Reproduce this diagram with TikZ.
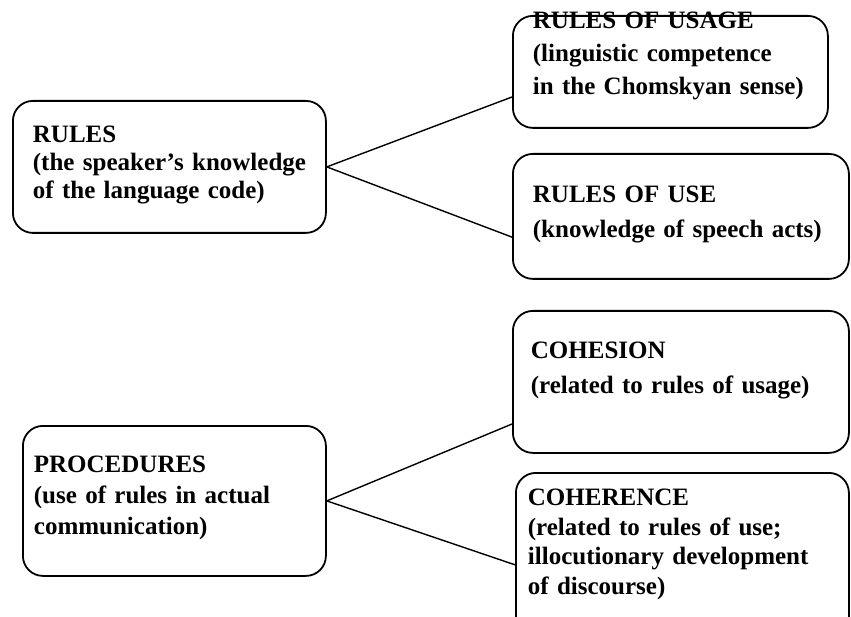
\documentclass[tikz,border=0pt]{standalone}
\usepackage{fontspec}
\setmainfont{Liberation Serif}
\usepackage{tikz}

\begin{document}
\begin{tikzpicture}[x=1pt, y=-1pt]
    \tikzstyle{block} = [rectangle, draw, line width=1.8pt, rounded corners=20pt,
        anchor=north west, align=left, inner ysep=0pt]
    \tikzstyle{line} = [draw, line width=1.4pt]

    \clip (0,0) rectangle (851,617);

    \node [block, inner xsep=20pt, text width=273pt, text height=42pt, text depth=90pt,
        font=\bfseries\fontsize{25}{28}\selectfont] (rules) at (12,100)
        {RULES\\(the speaker's knowledge\\of the language code)};
    \node [block, inner xsep=20pt, text width=275pt, text height=13pt, text depth=99pt,
        font=\bfseries\fontsize{25}{33}\selectfont] (usage) at (512,15)
        {RULES OF USAGE\\(linguistic competence\\in the Chomskyan sense)};
    \node [block, inner xsep=20pt, text width=296pt, text height=49pt, text depth=76pt,
        font=\bfseries\fontsize{25}{35}\selectfont] (use) at (512,153)
        {RULES OF USE\\(knowledge of speech acts)};
    \node [block, inner xsep=11pt, text width=281pt, text height=47pt, text depth=103pt,
        font=\bfseries\fontsize{25}{31}\selectfont] (procedures) at (22,425)
        {PROCEDURES\\(use of rules in actual\\communication)};
    \node [block, inner xsep=18pt, text width=300pt, text height=48pt, text depth=94pt,
        font=\bfseries\fontsize{25}{35}\selectfont] (cohesion) at (512,310)
        {COHESION\\(related to rules of usage)};
    \node [block, inner xsep=12pt, text width=309pt, text height=33pt, text depth=145pt,
        font=\bfseries\fontsize{25}{29.5}\selectfont] (coherence) at (515,472)
        {COHERENCE\\(related to rules of use;\\illocutionary development\\of discourse)};

    \path [line] (rules.east) -- (usage.189);
    \path [line] (rules.east) -- (use.187);
    \path [line] (procedures.east) -- (cohesion.194);
    \path [line] (procedures.east) -- (coherence.181);
\end{tikzpicture}
\end{document}
